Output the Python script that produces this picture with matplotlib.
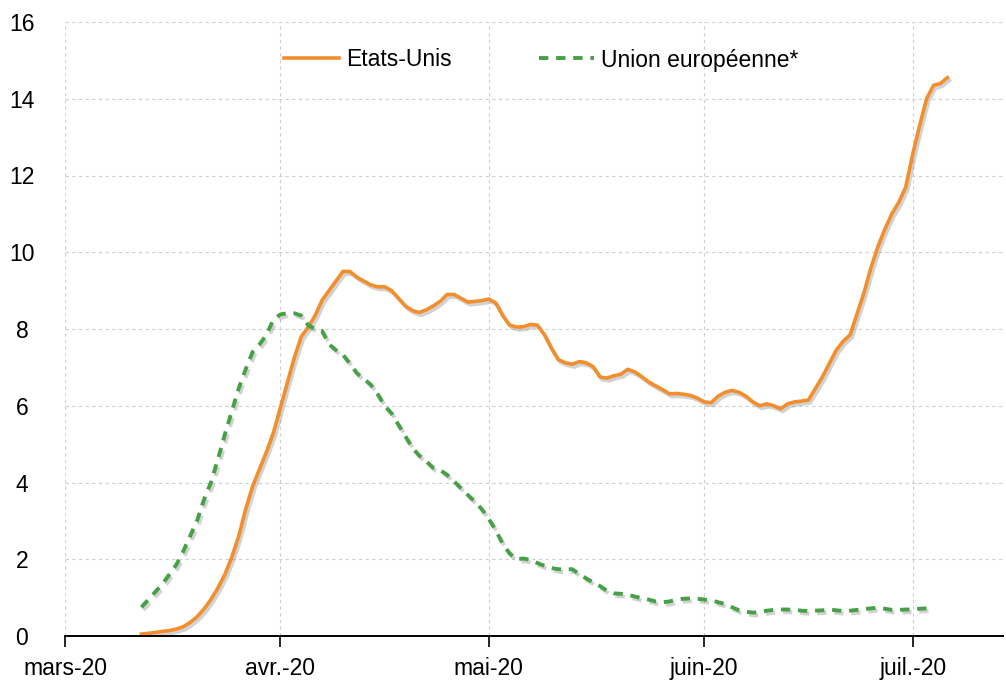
import numpy as np
import pandas as pd
import matplotlib
matplotlib.use("Agg")
import matplotlib.pyplot as plt
import matplotlib.patheffects as pe

# daily values, starting 12 March 2020
us_start = "2020-03-12"
us_values = [
    0.05, 0.07, 0.09, 0.12, 0.14, 0.18, 0.24, 0.35, 0.5, 0.7,
    0.95, 1.25, 1.6, 2.05, 2.6, 3.3, 3.9, 4.35, 4.8, 5.3,
    5.95, 6.6, 7.25, 7.8, 8.05, 8.35, 8.75, 9.0, 9.25, 9.5,
    9.5, 9.35, 9.25, 9.15,
    9.1, 9.1, 9.0, 8.8, 8.6, 8.48, 8.43, 8.5, 8.6, 8.72,
    8.9, 8.9, 8.8, 8.7, 8.72, 8.74, 8.78, 8.68, 8.35, 8.1,
    8.05, 8.06, 8.12, 8.1, 7.85, 7.5, 7.2, 7.12, 7.08, 7.15,
    7.12, 7.02, 6.75, 6.72, 6.78, 6.82, 6.95, 6.88, 6.76, 6.62,
    6.52, 6.42, 6.31, 6.32, 6.3, 6.27, 6.2, 6.1, 6.08, 6.25,
    6.35, 6.4, 6.35, 6.25, 6.1, 6.0, 6.05, 6.0, 5.92, 6.05,
    6.1, 6.12, 6.15, 6.45, 6.75, 7.1, 7.45, 7.68, 7.85, 8.4,
    8.95, 9.6, 10.15, 10.6, 11.0, 11.3, 11.7, 12.55, 13.3, 14.0,
    14.35, 14.4, 14.55,
]

eu_start = "2020-03-12"
eu_values = [
    0.75, 0.95, 1.15, 1.35, 1.6, 1.85, 2.2, 2.6, 3.0, 3.55,
    4.0, 4.6, 5.25, 5.85, 6.45, 6.95, 7.4, 7.6, 7.85, 8.25,
    8.38, 8.41, 8.41, 8.35, 8.1, 8.0, 7.95, 7.6, 7.45, 7.33,
    7.1, 6.85, 6.7, 6.55, 6.3, 6.0, 5.8, 5.5, 5.2, 4.9,
    4.7, 4.55, 4.38, 4.32, 4.2, 4.03, 3.85, 3.67, 3.5, 3.3,
    3.05, 2.75, 2.4, 2.15, 2.0, 2.02, 1.98, 1.9, 1.83, 1.77,
    1.74, 1.74, 1.74, 1.62, 1.5, 1.4, 1.3, 1.18, 1.11, 1.1,
    1.07, 1.03, 0.98, 0.95, 0.9, 0.88, 0.9, 0.95, 0.97, 0.98,
    0.97, 0.95, 0.93, 0.88, 0.83, 0.75, 0.67, 0.63, 0.61, 0.62,
    0.66, 0.68, 0.69, 0.69, 0.68, 0.66, 0.65, 0.66, 0.67, 0.69,
    0.67, 0.65, 0.66, 0.68, 0.7, 0.72, 0.74, 0.71, 0.68, 0.68,
    0.69, 0.69, 0.71, 0.72,
]

month_ticks = ["2020-03-01", "2020-04-01", "2020-05-01", "2020-06-01", "2020-07-01"]
month_labels = ["mars-20", "avr.-20", "mai-20", "juin-20", "juil.-20"]
y_ticks = [0, 2, 4, 6, 8, 10, 12, 14, 16]

us_dates = pd.date_range(us_start, periods=len(us_values), freq="D")
eu_dates = pd.date_range(eu_start, periods=len(eu_values), freq="D")

plt.rcParams["font.family"] = ["Liberation Sans Narrow", "Liberation Sans", "DejaVu Sans"]

fig = plt.figure(figsize=(10.06, 6.84), dpi=100)
ax = fig.add_axes([65 / 1006, 48 / 684, 938 / 1006, 614 / 684])

shadow = [pe.SimpleLineShadow(offset=(1.5, -2), shadow_color="gray", alpha=0.35), pe.Normal()]

ax.plot(us_dates, us_values, color="#F28E2B", lw=2.6, label="Etats-Unis",
        solid_joinstyle="round", path_effects=shadow)
ax.plot(eu_dates, eu_values, color="#46A046", lw=2.8, dashes=(2.4, 2.0),
        label="Union européenne*", path_effects=shadow)

ax.set_xlim(pd.Timestamp("2020-03-01"), pd.Timestamp("2020-07-14"))
ax.set_ylim(0, 16)
ax.set_xticks(pd.to_datetime(month_ticks))
ax.set_xticklabels(month_labels)
ax.set_yticks(y_ticks)

ax.grid(True, color="#CFCFCF", lw=0.8, dashes=(3, 3))
ax.set_axisbelow(True)
for s in ["left", "top", "right"]:
    ax.spines[s].set_visible(False)
ax.spines["bottom"].set_linewidth(1.4)

ax.tick_params(axis="x", length=8, width=1.2, pad=7, labelsize=16.5, colors="black")
ax.tick_params(axis="y", length=0, pad=31, labelsize=16.5)
for lab in ax.get_yticklabels():
    lab.set_horizontalalignment("center")

leg = ax.legend(loc="center", bbox_to_anchor=(0.5378, 1 - 60 / 684), bbox_transform=fig.transFigure,
                ncol=2, frameon=False, fontsize=16.5, handlelength=2.4, handletextpad=0.3,
                columnspacing=3.8)
for h in leg.get_lines():
    h.set_path_effects([])

fig.savefig("out.png", dpi=100)
